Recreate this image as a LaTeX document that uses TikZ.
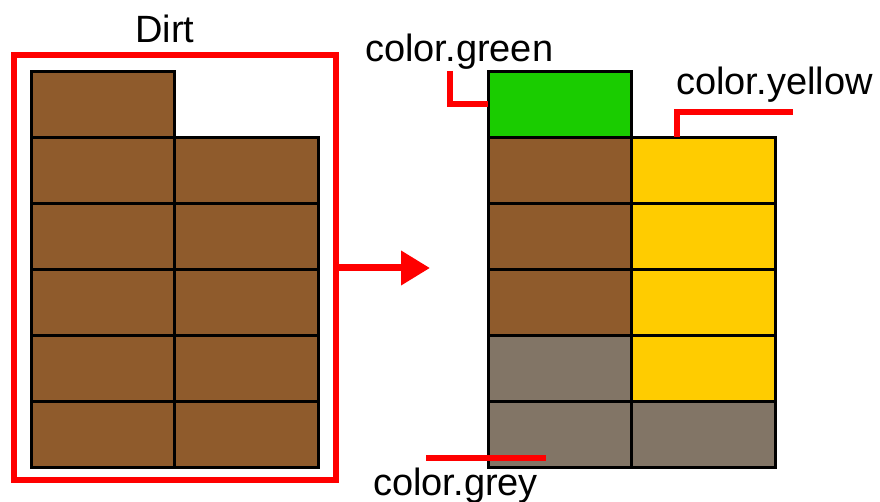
\documentclass[tikz,border=0pt]{standalone}
\usepackage{fontspec}
\setmainfont{Liberation Sans}
\usepackage{tikz}
\usetikzlibrary{arrows.meta,positioning}

\definecolor{dirtbrown}{RGB}{143,91,44}
\definecolor{grassgreen}{RGB}{26,204,0}
\definecolor{sandyellow}{RGB}{255,204,0}
\definecolor{stonegrey}{RGB}{130,117,102}

\begin{document}
\begin{tikzpicture}[
  x=1pt, y=-1pt,
  block/.style={rectangle, draw=black, line width=3pt, minimum width=143.5pt, minimum height=66pt, inner sep=0pt, outer sep=0pt},
  dirt/.style={block, fill=dirtbrown},
  grass/.style={block, fill=grassgreen},
  sand/.style={block, fill=sandyellow},
  stone/.style={block, fill=stonegrey},
  frame/.style={rectangle, draw=red, line width=6pt, minimum width=322.5pt, minimum height=424.5pt, inner sep=0pt, outer sep=0pt},
  label/.style={font=\fontsize{38}{40}\selectfont, inner sep=0pt, anchor=base west},
  leader/.style={draw=red, line width=6pt},
  arrow/.style={-{Triangle[length=29pt,width=33pt]}, draw=red, line width=7pt}
]
  \useasboundingbox (0,0) rectangle (880,502);

  % left: dirt only
  \node[frame] (dirtframe) at (174.75,267.75) {};
  \node[label, anchor=base] (dirtlabel) at (165,43) {Dirt};
  \node[dirt] (l0) at (102.75,104.5) {};
  \node[dirt, below=0pt of l0] (l1) {};
  \node[dirt, right=0pt of l1] (r1) {};
  \node[dirt, below=0pt of l1] (l2) {};
  \node[dirt, right=0pt of l2] (r2) {};
  \node[dirt, below=0pt of l2] (l3) {};
  \node[dirt, right=0pt of l3] (r3) {};
  \node[dirt, below=0pt of l3] (l4) {};
  \node[dirt, right=0pt of l4] (r4) {};
  \node[dirt, below=0pt of l4] (l5) {};
  \node[dirt, right=0pt of l5] (r5) {};

  % right: coloured
  \node[grass] (g0) at (559.75,104.5) {};
  \node[dirt, below=0pt of g0] (g1) {};
  \node[sand, right=0pt of g1] (y1) {};
  \node[dirt, below=0pt of g1] (g2) {};
  \node[sand, right=0pt of g2] (y2) {};
  \node[dirt, below=0pt of g2] (g3) {};
  \node[sand, right=0pt of g3] (y3) {};
  \node[stone, below=0pt of g3] (g4) {};
  \node[sand, right=0pt of g4] (y4) {};
  \node[stone, below=0pt of g4] (g5) {};
  \node[stone, right=0pt of g5] (y5) {};

  \coordinate (arrowtip) at (430,268);
  \draw[arrow] (dirtframe.east |- arrowtip) -- (arrowtip);

  % labels
  \node[label] (greenlabel) at (365,62) {color.green};
  \node[label] (yellowlabel) at (676,95) {color.yellow};
  \node[label] (greylabel) at (373,495) {color.grey};

  \coordinate (greenend) at (450,71);
  \coordinate (yellowend) at (793,112);
  \coordinate (greystart) at (426,458);
  \coordinate (greyend) at (546,458);
  \draw[leader] (greenend) |- (g0.west);
  \draw[leader] ([xshift=-26.5pt]y1.north) |- (yellowend);
  \draw[leader] (greystart) -- (greyend);
\end{tikzpicture}
\end{document}
